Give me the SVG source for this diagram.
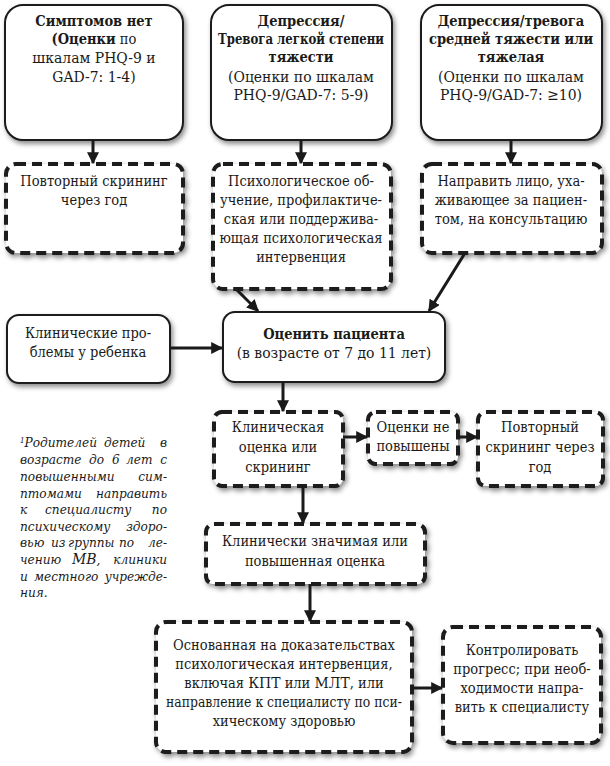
<svg xmlns="http://www.w3.org/2000/svg" width="610" height="766" viewBox="0 0 610 766">
<defs>
<filter id="sh" x="-10%" y="-10%" width="130%" height="130%">
<feDropShadow dx="2" dy="3" stdDeviation="2.5" flood-color="#000" flood-opacity="0.45"/>
</filter>
<marker id="ah" viewBox="0 0 10 10" refX="9" refY="5" markerWidth="4" markerHeight="4" orient="auto" markerUnits="strokeWidth">
<path d="M0,0 L10,5 L0,10 z" fill="#1a1a1a"/>
</marker>
</defs>
<style>
.solid{fill:#fff;stroke:#1a1a1a;stroke-width:2;filter:url(#sh)}
.dash{fill:#fff;stroke:#1a1a1a;stroke-width:4;stroke-dasharray:10 6;filter:url(#sh)}
text{font-family:"DejaVu Serif Condensed","DejaVu Serif",serif;font-stretch:condensed;font-size:14.5px;fill:#1a1a1a;text-anchor:middle}
.b{font-weight:bold}
.l{font-size:15.5px}
.fn{font-style:italic;font-size:13.5px;text-anchor:start}
.e{text-anchor:end}
.c line{stroke:#1a1a1a;stroke-width:3;marker-end:url(#ah)}
</style>
<rect width="610" height="766" fill="#fff"/>
<g id="n1">
<rect class="solid" x="5" y="5" width="178" height="135" rx="18"/>
<text x="94" y="26" class="b">Симптомов нет</text>
<text x="94" y="44"><tspan class="b">(Оценки</tspan> по</text>
<text x="94" y="63" class="l">шкалам РHQ-9 и</text>
<text x="94" y="82" class="l">GAD-7: 1-4)</text>
</g>
<g id="n2">
<rect class="solid" x="211" y="5" width="181" height="135" rx="18"/>
<text x="301" y="26" class="b">Депрессия/</text>
<text x="301" y="44" class="b" textLength="166" lengthAdjust="spacingAndGlyphs">Тревога легкой степени</text>
<text x="301" y="62" class="b">тяжести</text>
<text x="301" y="82" class="l">(Оценки по шкалам</text>
<text x="301" y="100" class="l">РHQ-9/GAD-7: 5-9)</text>
</g>
<g id="n3">
<rect class="solid" x="421" y="5" width="181" height="135" rx="18"/>
<text x="511" y="26" class="b">Депрессия/тревога</text>
<text x="511" y="44" class="b">средней тяжести или</text>
<text x="511" y="62" class="b">тяжелая</text>
<text x="511" y="82" class="l">(Оценки по шкалам</text>
<text x="511" y="100" class="l">РHQ-9/GAD-7: ≥10)</text>
</g>
<g id="n4">
<rect class="dash" x="6" y="164" width="177" height="89" rx="10"/>
<text x="94" y="186">Повторный скрининг</text>
<text x="94" y="205">через год</text>
</g>
<g id="n5">
<rect class="dash" x="213" y="164" width="178" height="125" rx="10"/>
<text x="301" y="186">Психологическое об-</text>
<text x="301" y="205">учение, профилактиче-</text>
<text x="301" y="224">ская или поддержива-</text>
<text x="301" y="243">ющая психологическая</text>
<text x="301" y="262">интервенция</text>
</g>
<g id="n6">
<rect class="dash" x="422" y="164" width="180" height="89" rx="10"/>
<text x="511" y="186">Направить лицо, уха-</text>
<text x="511" y="205">живающее за пациен-</text>
<text x="511" y="224">том, на консультацию</text>
</g>
<g id="n7">
<rect class="solid" x="223" y="312" width="222" height="70" rx="12"/>
<text x="334" y="339" class="b">Оценить пациента</text>
<text x="334" y="358" class="l">(в возрасте от 7 до 11 лет)</text>
</g>
<g id="n8">
<rect class="solid" x="7" y="315" width="163" height="68" rx="12"/>
<text x="88" y="338">Клинические про-</text>
<text x="88" y="357">блемы у ребенка</text>
</g>
<g id="n9">
<rect class="dash" x="214" y="412" width="129" height="74" rx="8"/>
<text x="278" y="432">Клиническая</text>
<text x="278" y="452">оценка или</text>
<text x="278" y="472">скрининг</text>
</g>
<g id="n10">
<rect class="dash" x="368" y="412" width="90" height="52" rx="8"/>
<text x="413" y="432">Оценки не</text>
<text x="413" y="451">повышены</text>
</g>
<g id="n11">
<rect class="dash" x="478" y="412" width="125" height="74" rx="8"/>
<text x="540" y="432">Повторный</text>
<text x="540" y="452">скрининг через</text>
<text x="540" y="472">год</text>
</g>
<g id="n12">
<rect class="dash" x="206" y="524" width="219" height="60" rx="8"/>
<text x="315" y="546">Клинически значимая или</text>
<text x="315" y="566">повышенная оценка</text>
</g>
<g id="n13">
<rect class="dash" x="156" y="622" width="256" height="130" rx="10"/>
<text x="284" y="650">Основанная на доказательствах</text>
<text x="284" y="669">психологическая интервенция,</text>
<text x="284" y="688">включая <tspan class="l">КПТ</tspan> или <tspan class="l">МЛТ</tspan>, или</text>
<text x="284" y="707" textLength="236" lengthAdjust="spacingAndGlyphs">направление к специалисту по пси-</text>
<text x="284" y="726">хическому здоровью</text>
</g>
<g id="n14">
<rect class="dash" x="443" y="627" width="158" height="116" rx="10"/>
<text x="522" y="655">Контролировать</text>
<text x="522" y="674">прогресс; при необ-</text>
<text x="522" y="693">ходимости напра-</text>
<text x="522" y="712">вить к специалисту</text>
</g>
<g id="note">
<text class="fn" x="20" y="447"><tspan font-size="8" baseline-shift="super">1</tspan>Родителей <tspan x="104">детей</tspan> <tspan x="167" class="e">в</tspan></text>
<text class="fn" x="20" y="464">возрасте <tspan x="89">до</tspan> <tspan x="112">6</tspan> <tspan x="126">лет</tspan> <tspan x="167" class="e">с</tspan></text>
<text class="fn" x="20" y="481">повышенными <tspan x="167" class="e">сим-</tspan></text>
<text class="fn" x="20" y="498">птомами <tspan x="167" class="e">направить</tspan></text>
<text class="fn" x="20" y="514">к <tspan x="45">специалисту</tspan> <tspan x="167" class="e">по</tspan></text>
<text class="fn" x="20" y="531">психическому <tspan x="167" class="e">здоро-</tspan></text>
<text class="fn" x="20" y="547">вью <tspan x="51">из</tspan> <tspan x="68">группы</tspan> <tspan x="119">по</tspan> <tspan x="167" class="e">ле-</tspan></text>
<text class="fn" x="20" y="564">чению <tspan x="72" font-size="15.5">МВ</tspan>, <tspan x="167" class="e">клиники</tspan></text>
<text class="fn" x="20" y="581">и <tspan x="34">местного</tspan> <tspan x="167" class="e">учрежде-</tspan></text>
<text class="fn" x="20" y="597">ния.</text>
</g>
<g id="connectors" class="c">
<line x1="93" y1="140" x2="93" y2="163"/>
<line x1="301" y1="140" x2="301" y2="163"/>
<line x1="511" y1="140" x2="511" y2="163"/>
<line x1="237" y1="290" x2="258" y2="311"/>
<line x1="465" y1="253" x2="429" y2="311"/>
<line x1="170" y1="348" x2="222" y2="348"/>
<line x1="283" y1="382" x2="283" y2="411"/>
<line x1="343" y1="437" x2="367" y2="437"/>
<line x1="458" y1="437" x2="477" y2="437"/>
<line x1="303" y1="486" x2="303" y2="523"/>
<line x1="310" y1="584" x2="310" y2="621"/>
<line x1="412" y1="688" x2="442" y2="688"/>
</g>
</svg>
